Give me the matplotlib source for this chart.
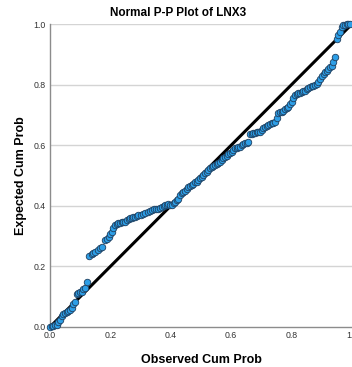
import matplotlib
matplotlib.use("Agg")
import matplotlib.pyplot as plt

observed = [0.000, 0.005, 0.011, 0.016, 0.022, 0.028, 0.033, 0.039, 0.044, 0.050,
            0.055, 0.061, 0.066, 0.072, 0.077, 0.083, 0.088, 0.094, 0.099, 0.105,
            0.110, 0.116, 0.124, 0.130, 0.138, 0.143, 0.149, 0.160, 0.166, 0.171,
            0.182, 0.188, 0.195, 0.200, 0.204, 0.210, 0.215, 0.221, 0.226, 0.232,
            0.237, 0.243, 0.248, 0.254, 0.260, 0.265, 0.271, 0.276, 0.282, 0.287,
            0.293, 0.300, 0.308, 0.315, 0.323, 0.331, 0.337, 0.344, 0.351, 0.359,
            0.365, 0.370, 0.376, 0.381, 0.387, 0.392, 0.398, 0.403, 0.409, 0.414,
            0.420, 0.425, 0.431, 0.436, 0.442, 0.447, 0.452, 0.458, 0.464, 0.469,
            0.475, 0.480, 0.486, 0.491, 0.497, 0.502, 0.508, 0.513, 0.519, 0.524,
            0.530, 0.535, 0.541, 0.546, 0.552, 0.557, 0.563, 0.568, 0.574, 0.579,
            0.585, 0.590, 0.596, 0.601, 0.607, 0.613, 0.618, 0.624, 0.629, 0.635,
            0.640, 0.646, 0.652, 0.657, 0.662, 0.668, 0.673, 0.679, 0.684, 0.690,
            0.695, 0.701, 0.706, 0.712, 0.717, 0.723, 0.728, 0.734, 0.739, 0.745,
            0.750, 0.756, 0.762, 0.767, 0.773, 0.778, 0.784, 0.789, 0.795, 0.800,
            0.806, 0.811, 0.817, 0.822, 0.828, 0.833, 0.839, 0.844, 0.850, 0.855,
            0.861, 0.866, 0.872, 0.877, 0.883, 0.889, 0.894, 0.900, 0.906, 0.911,
            0.917, 0.922, 0.928, 0.933, 0.938, 0.944, 0.949, 0.955, 0.960, 0.966,
            0.971, 0.977, 0.982, 0.988, 0.993]
expected = [0.000, 0.002, 0.003, 0.005, 0.007, 0.015, 0.023, 0.036, 0.043, 0.047,
            0.051, 0.054, 0.056, 0.062, 0.076, 0.084, 0.109, 0.111, 0.114, 0.117,
            0.124, 0.130, 0.150, 0.234, 0.240, 0.245, 0.249, 0.254, 0.260, 0.265,
            0.287, 0.292, 0.296, 0.308, 0.315, 0.328, 0.337, 0.340, 0.342, 0.344,
            0.345, 0.347, 0.348, 0.352, 0.356, 0.359, 0.361, 0.362, 0.364, 0.366,
            0.368, 0.370, 0.373, 0.375, 0.380, 0.384, 0.386, 0.388, 0.390, 0.391,
            0.394, 0.397, 0.400, 0.403, 0.404, 0.405, 0.404, 0.403, 0.408, 0.414,
            0.418, 0.421, 0.435, 0.442, 0.446, 0.450, 0.457, 0.462, 0.465, 0.469,
            0.473, 0.477, 0.480, 0.486, 0.491, 0.496, 0.502, 0.507, 0.512, 0.518,
            0.524, 0.528, 0.531, 0.535, 0.539, 0.542, 0.546, 0.552, 0.557, 0.562,
            0.566, 0.570, 0.573, 0.579, 0.585, 0.590, 0.592, 0.594, 0.595, 0.600,
            0.604, 0.607, 0.608, 0.609, 0.637, 0.638, 0.640, 0.641, 0.643, 0.644,
            0.645, 0.651, 0.656, 0.661, 0.664, 0.667, 0.670, 0.672, 0.674, 0.676,
            0.690, 0.705, 0.708, 0.711, 0.714, 0.718, 0.722, 0.727, 0.736, 0.744,
            0.755, 0.766, 0.769, 0.771, 0.773, 0.776, 0.778, 0.780, 0.784, 0.788,
            0.792, 0.795, 0.797, 0.799, 0.803, 0.807, 0.817, 0.827, 0.834, 0.840,
            0.846, 0.851, 0.857, 0.862, 0.873, 0.892, 0.950, 0.964, 0.975, 0.991,
            0.997, 0.998, 0.999, 1.000, 1.000]

ref_line = [0.0, 1.0]
yticks = [0.0, 0.2, 0.4, 0.6, 0.8, 1.0]
xticks = [0.0, 0.2, 0.4, 0.6, 0.8, 1.0]

plt.rcParams['font.family'] = ['Liberation Sans', 'DejaVu Sans']

fig = plt.figure(figsize=(3.52, 3.67), dpi=100)
ax = fig.add_axes([50/352, 40/367, 302/352, 303/367])

ax.set_xlim(0, 1)
ax.set_ylim(0, 1)
for t in yticks[1:]:
    ax.axhline(t, color='#d4d4d4', lw=1.0, zorder=0)

ax.plot(ref_line, ref_line, color='black', lw=2.2, zorder=2, clip_on=False)
ax.scatter(observed, expected, s=22, facecolor='#2d9ee6', edgecolor='#1f3f5f',
           linewidths=0.6, zorder=3, clip_on=False)

ax.set_xticks(xticks)
ax.set_yticks(yticks)
ax.set_xticklabels([f"{v:.1f}" for v in xticks])
ax.set_yticklabels([f"{v:.1f}" for v in yticks])
ax.tick_params(length=0, labelsize=6.3, colors='#333333', pad=3)
for s in ['top', 'right']:
    ax.spines[s].set_visible(False)
for s in ['left', 'bottom']:
    ax.spines[s].set_color('#8c8c8c')
    ax.spines[s].set_linewidth(1.0)

ax.set_xlabel('Observed Cum Prob', fontsize=9, fontweight='bold', labelpad=10)
ax.set_ylabel('Expected Cum Prob', fontsize=9, fontweight='bold', labelpad=5)
fig.text(0.505, 1 - 13/367, 'Normal P-P Plot of LNX3', ha='center', va='center',
         fontsize=8.5, fontweight='bold')

fig.savefig('out.png', dpi=100)
